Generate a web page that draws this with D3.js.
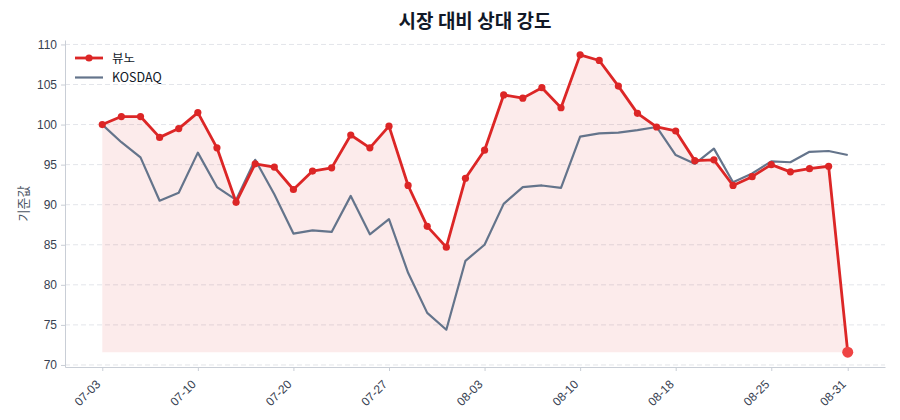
<!DOCTYPE html>
<html>
<head>
<meta charset="utf-8">
<script src="https://cdn.jsdelivr.net/npm/d3@7"></script>
<style>
  html, body { margin: 0; padding: 0; background: #fff; }
  body { font-family: "Noto Sans CJK KR", "Noto Sans", sans-serif; }
  #chart { width: 900px; height: 420px; }
  .axis text { fill: #374151; font-size: 12px; }
  .axis .domain, .axis line { stroke: #c9ced6; }
</style>
</head>
<body>
<div id="chart"></div>
<script>
const dates = [
  "07-03", "07-04", "07-07", "07-08", "07-09", "07-10", "07-11", "07-14", "07-16", "07-17",
  "07-20", "07-21", "07-22", "07-23", "07-24", "07-27", "07-28", "07-29", "07-30", "07-31",
  "08-03", "08-04", "08-05", "08-06", "08-07", "08-10", "08-11", "08-12", "08-13", "08-14",
  "08-18", "08-19", "08-20", "08-21", "08-22", "08-25", "08-26", "08-27", "08-28", "08-31",
];
const vuno = [
  100.0, 101.0, 101.0, 98.4, 99.5, 101.5, 97.1, 90.3, 95.1, 94.7,
  91.9, 94.2, 94.6, 98.7, 97.1, 99.8, 92.4, 87.3, 84.7, 93.3,
  96.8, 103.7, 103.3, 104.6, 102.1, 108.7, 108.0, 104.8, 101.4, 99.7,
  99.2, 95.5, 95.6, 92.4, 93.5, 95.0, 94.1, 94.5, 94.8, 71.6,
];
const kosdaq = [
  100.0, 97.8, 95.9, 90.5, 91.5, 96.5, 92.2, 90.6, 95.6, 91.3,
  86.4, 86.8, 86.6, 91.1, 86.3, 88.2, 81.5, 76.5, 74.4, 83.0,
  85.0, 90.1, 92.2, 92.4, 92.1, 98.5, 98.9, 99.0, 99.3, 99.7,
  96.2, 95.1, 97.0, 92.8, 93.9, 95.4, 95.3, 96.6, 96.7, 96.2,
];
const xTickIndex = [0, 5, 10, 15, 20, 25, 30, 35, 39];
const yTicks = [70, 75, 80, 85, 90, 95, 100, 105, 110];
const seriesNames = ["뷰노", "KOSDAQ"];

const width = 900;
const height = 420;
const margin = { top: 40, right: 15, bottom: 53, left: 65 };

const red = "#dc2626";
const slate = "#64748b";

const n = vuno.length;
const allValues = vuno.concat(kosdaq);
const yMin = d3.min(allValues);
const yMax = d3.max(allValues);
const yPad = 0.05 * (yMax - yMin);
const xPad = 0.05 * (n - 1);

const x = d3.scaleLinear()
  .domain([-xPad, n - 1 + xPad])
  .range([margin.left, width - margin.right]);
const y = d3.scaleLinear()
  .domain([yMin - yPad, yMax + yPad])
  .range([height - margin.bottom, margin.top]);

const svg = d3.select("#chart").append("svg")
  .attr("width", width)
  .attr("height", height)
  .attr("viewBox", [0, 0, width, height]);

// grid
svg.append("g")
  .selectAll("line")
  .data(yTicks)
  .join("line")
  .attr("x1", margin.left)
  .attr("x2", width - margin.right)
  .attr("y1", (d) => y(d))
  .attr("y2", (d) => y(d))
  .attr("stroke", "#e3e5ea")
  .attr("stroke-width", 1)
  .attr("stroke-dasharray", "5 3");

// fill under the stock line, down to its lowest value
const baseline = d3.min(vuno);
const area = d3.area()
  .x((d, i) => x(i))
  .y0(() => y(baseline))
  .y1((d) => y(d));
svg.append("path")
  .datum(vuno)
  .attr("fill", red)
  .attr("fill-opacity", 0.09)
  .attr("d", area);

const line = d3.line()
  .x((d, i) => x(i))
  .y((d) => y(d));

svg.append("path")
  .datum(kosdaq)
  .attr("fill", "none")
  .attr("stroke", slate)
  .attr("stroke-width", 2.2)
  .attr("stroke-linejoin", "round")
  .attr("d", line);

svg.append("path")
  .datum(vuno)
  .attr("fill", "none")
  .attr("stroke", red)
  .attr("stroke-width", 2.8)
  .attr("stroke-linejoin", "round")
  .attr("d", line);

svg.append("g")
  .selectAll("circle")
  .data(vuno.slice(0, n - 1))
  .join("circle")
  .attr("cx", (d, i) => x(i))
  .attr("cy", (d) => y(d))
  .attr("r", 3.6)
  .attr("fill", red);

svg.append("circle")
  .attr("cx", x(n - 1))
  .attr("cy", y(vuno[n - 1]))
  .attr("r", 5.5)
  .attr("fill", "#ef4444");

// axes
const gX = svg.append("g")
  .attr("class", "axis")
  .attr("transform", `translate(0,${height - margin.bottom})`)
  .call(
    d3.axisBottom(x)
      .tickValues(xTickIndex)
      .tickFormat((i) => dates[i])
      .tickSize(4)
      .tickSizeOuter(0)
  );
gX.selectAll(".tick text")
  .attr("x", 0)
  .attr("y", 0)
  .attr("dy", null)
  .attr("text-anchor", "end")
  .attr("transform", "translate(-1.5,18) rotate(-45)")
  .attr("font-size", 12);

const gY = svg.append("g")
  .attr("class", "axis")
  .attr("transform", `translate(${margin.left},0)`)
  .call(
    d3.axisLeft(y)
      .tickValues(yTicks)
      .tickSize(4)
      .tickSizeOuter(0)
  );
gY.selectAll(".tick text").attr("x", -8);

svg.append("text")
  .attr("transform", `translate(28,${(margin.top + height - margin.bottom) / 2}) rotate(-90)`)
  .attr("text-anchor", "middle")
  .attr("fill", "#4b5563")
  .attr("font-size", 13)
  .text("기준값");

svg.append("text")
  .attr("x", (margin.left + width - margin.right) / 2)
  .attr("y", 28)
  .attr("text-anchor", "middle")
  .attr("fill", "#111827")
  .attr("font-size", 19)
  .attr("font-weight", "bold")
  .text("시장 대비 상대 강도");

// legend
const legend = svg.append("g").attr("transform", "translate(75,58)");
const items = legend.selectAll("g")
  .data(seriesNames)
  .join("g")
  .attr("transform", (d, i) => `translate(0,${i * 19.5})`);
items.append("line")
  .attr("x1", 0)
  .attr("x2", 28)
  .attr("stroke", (d, i) => (i === 0 ? red : slate))
  .attr("stroke-width", (d, i) => (i === 0 ? 2.8 : 2.2));
items.filter((d, i) => i === 0)
  .append("circle")
  .attr("cx", 14)
  .attr("r", 3.6)
  .attr("fill", red);
items.append("text")
  .attr("x", 37)
  .attr("dy", "0.36em")
  .attr("fill", "#111827")
  .attr("font-size", 12.5)
  .text((d) => d);
</script>
</body>
</html>
